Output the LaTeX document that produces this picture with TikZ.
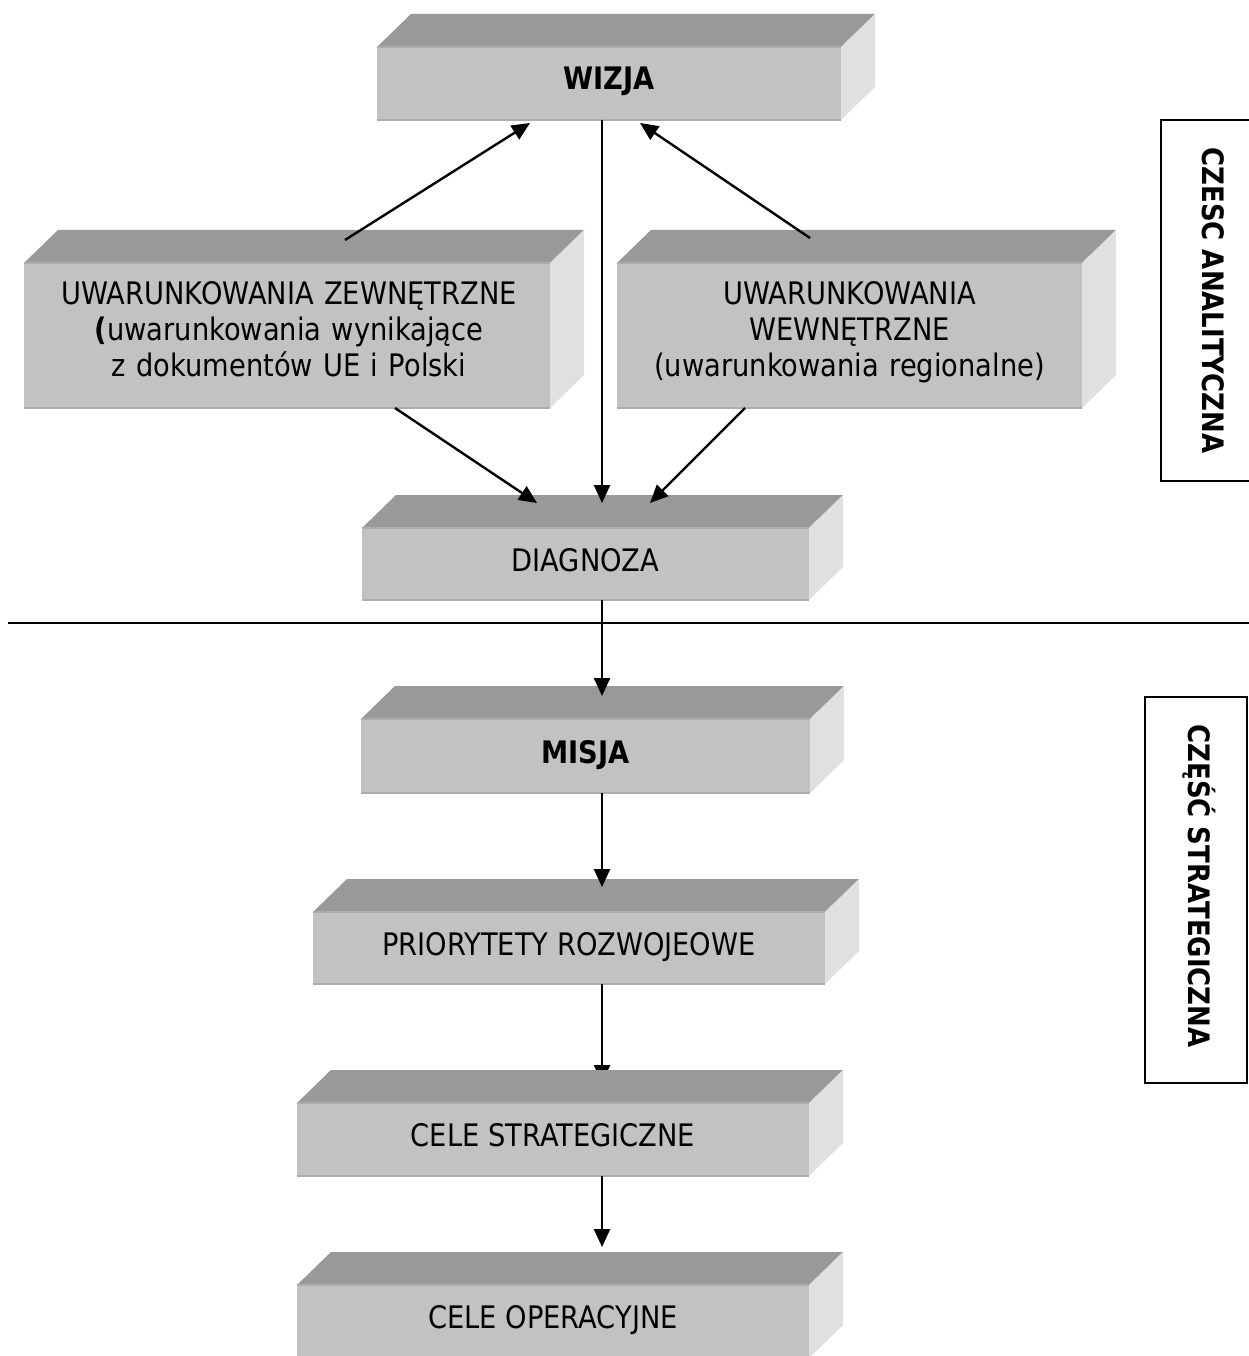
\documentclass[tikz,border=0pt]{standalone}
\usepackage{fontspec}
\setmainfont{DejaVu Sans}[FakeStretch=0.88]
\usetikzlibrary{arrows.meta,calc}
\definecolor{topc}{HTML}{999999}
\definecolor{frontc}{HTML}{C2C2C2}
\definecolor{sidec}{HTML}{E0E0E0}
\definecolor{edgec}{HTML}{ADADAD}
\tikzset{
  frontbox/.style={fill=frontc, draw=none, inner sep=0pt, outer sep=0pt},
  lbl/.style={inner sep=0pt, font=\fontsize{31}{36}\selectfont},
  boldlbl/.style={lbl, font=\fontsize{31}{36}\selectfont\bfseries},
  sidebox/.style={draw=black, line width=1.5pt, inner sep=0pt, fill=none},
  sidelbl/.style={inner sep=0pt, font=\fontsize{29.5}{34}\selectfont\bfseries},
  conn/.style={draw=black, line width=2.4pt, -{Triangle[length=18pt,width=16pt]}},
}
% 3D box: name, x1, y1, x2, y2 (front face, pixel coordinates, y downward)
\newcommand\cubebox[5]{%
  \fill[topc] (#2,#3) -- (#2+34,#3-33) -- (#4+34,#3-33) -- (#4,#3) -- cycle;
  \fill[sidec] (#4,#3) -- (#4+34,#3-33) -- (#4+34,#5-33) -- (#4,#5) -- cycle;
  \node[frontbox, minimum width=#4-#2, minimum height=#5-#3] (#1) at ({(#2+#4)/2},{(#3+#5)/2}) {};
  \draw[edgec, line width=1.5pt] (#1.north west) -- (#1.north east);
  \draw[edgec, line width=1.5pt] (#1.south west) -- (#1.south east);
}
\begin{document}
\begin{tikzpicture}[x=1pt,y=-1pt]
\useasboundingbox (0,0) rectangle (1249,1356);
\fill[white] (0,0) rectangle (1249,1356);

% boxes
\cubebox{W}{377}{47}{841}{120}
\node[boldlbl, anchor=base] (Wt) at ($(W.north)+(0,43)$) {WIZJA};

\cubebox{L}{24}{263}{550}{408}
\node[lbl, anchor=base, text width=520pt, align=center] (Lt) at ($(L.north)+(2,41)$)
  {UWARUNKOWANIA ZEWNĘTRZNE\\{\bfseries(}uwarunkowania wynikające\\z dokumentów UE i Polski};

\cubebox{R}{617}{263}{1082}{408}
\node[lbl, anchor=base, text width=460pt, align=center] (Rt) at ($(R.north)+(0,41)$)
  {UWARUNKOWANIA\\WEWNĘTRZNE\\(uwarunkowania regionalne)};

\cubebox{D}{362}{528}{809}{600}
\node[lbl, anchor=base] (Dt) at ($(D.north)+(0,43)$) {DIAGNOZA};

\cubebox{M}{361}{719}{810}{793}
\node[boldlbl, anchor=base] (Mt) at ($(M.north)+(0,44)$) {MISJA};

\cubebox{P}{313}{912}{825}{984}
\node[lbl, anchor=base] (Pt) at ($(P.north)+(0,43)$) {PRIORYTETY ROZWOJEOWE};

% this arrow lies partly under the next box
\draw[conn] ($(P.south)+(33,0)$) -- ($(P.south)+(33,99)$) coordinate (pcs);

\cubebox{CS}{297}{1103}{809}{1176}
\node[lbl, anchor=base] (CSt) at ($(CS.north)+(0,43)$) {CELE STRATEGICZNE};

\cubebox{CO}{297}{1285}{809}{1358}
\node[lbl, anchor=base] (COt) at ($(CO.north)+(0,43)$) {CELE OPERACYJNE};

% connectors
\draw[conn] ($(L.north)+(58,-23)$) -- ($(W.south)+(-79,3)$);
\draw[conn] ($(R.north)+(-39.5,-25)$) -- ($(W.south)+(31,3)$);
\draw[conn] ($(W.south)+(-7,0)$) -- ($(D.north)+(16.5,-25)$);
\draw[conn] ($(L.south)+(108,0)$) -- ($(D.north)+(-48.5,-25)$);
\draw[conn] ($(R.south)+(-104.5,0)$) -- ($(D.north)+(64.5,-25)$);
\draw[conn] ($(D.south)+(16.5,0)$) -- ($(M.north)+(16.5,-23)$);
\draw[conn] ($(M.south)+(16.5,0)$) -- ($(P.north)+(33,-25)$);
\draw[conn] ($(CS.south)+(49,0)$) -- ($(CO.north)+(49,-38)$);

% separator
\draw[black, line width=2pt] (8,623) -- (1249,623);

% side labels
\node[sidebox, minimum width=100pt, minimum height=361pt] (SA) at (1211,300.5) {};
\node[sidelbl, rotate=-90, anchor=base] (SAt) at ($(SA.center)+(-9,0)$) {CZESC ANALITYCZNA};
\node[sidebox, minimum width=102pt, minimum height=386pt] (SS) at (1196,890) {};
\node[sidelbl, rotate=-90, anchor=base] (SSt) at ($(SS.center)+(-8,-4)$) {CZĘŚĆ STRATEGICZNA};
\end{tikzpicture}
\end{document}
